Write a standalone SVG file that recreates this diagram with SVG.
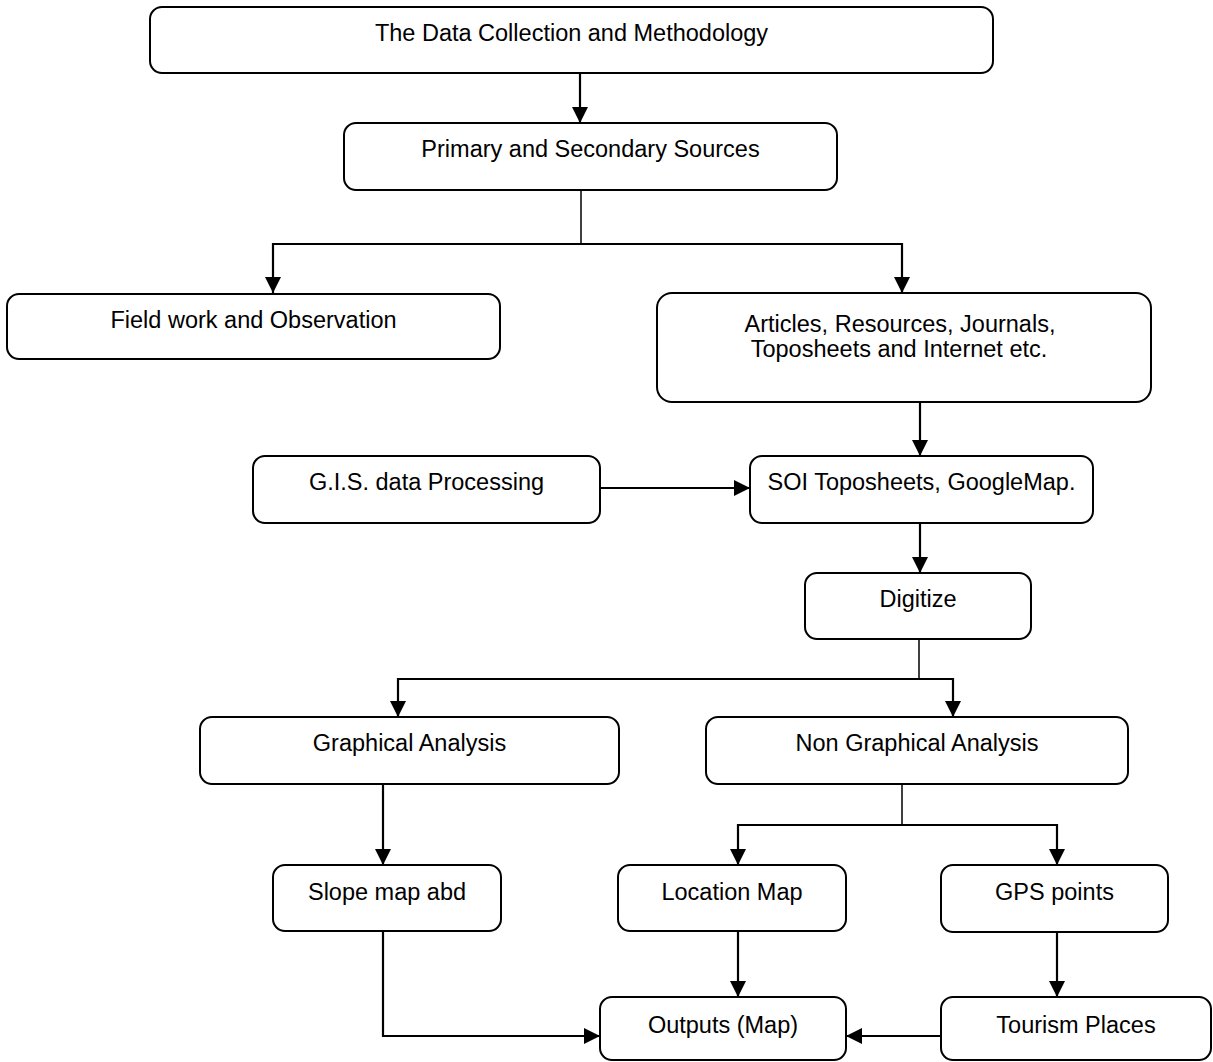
<svg xmlns="http://www.w3.org/2000/svg" width="1213" height="1062" viewBox="0 0 1213 1062">
<style>
.box{fill:#fff;stroke:#000;stroke-width:2}
.t{font-family:"Liberation Sans",Arial,sans-serif;font-size:23.5px;fill:#000;text-anchor:middle}
.c{fill:none;stroke:#000;stroke-width:2.2}
.thin{stroke-width:1.5}
</style>
<defs>
<marker id="ah" markerUnits="userSpaceOnUse" markerWidth="16" markerHeight="16" viewBox="0 0 16 16" refX="16" refY="8" orient="auto">
<path d="M0,0 L16,8 L0,16 Z" fill="#000"/>
</marker>
</defs>
<rect width="1213" height="1062" fill="#fff"/>
<g id="connectors">
<path class="c" d="M580,73 V123" marker-end="url(#ah)"/>
<path class="c thin" d="M581,190 V244"/>
<path class="c" d="M581,244 H273 V293" marker-end="url(#ah)"/>
<path class="c" d="M581,244 H902 V293" marker-end="url(#ah)"/>
<path class="c" d="M920,402 V456" marker-end="url(#ah)"/>
<path class="c" d="M600,488 H750" marker-end="url(#ah)"/>
<path class="c" d="M920,523 V573" marker-end="url(#ah)"/>
<path class="c thin" d="M919,639 V679"/>
<path class="c" d="M919,679 H398 V717" marker-end="url(#ah)"/>
<path class="c" d="M919,679 H953 V717" marker-end="url(#ah)"/>
<path class="c" d="M383,784 V865" marker-end="url(#ah)"/>
<path class="c thin" d="M902,784 V825"/>
<path class="c" d="M902,825 H738 V865" marker-end="url(#ah)"/>
<path class="c" d="M902,825 H1057 V865" marker-end="url(#ah)"/>
<path class="c" d="M738,931 V997" marker-end="url(#ah)"/>
<path class="c" d="M1057,932 V997" marker-end="url(#ah)"/>
<path class="c" d="M383,931 V1036 H600" marker-end="url(#ah)"/>
<path class="c" d="M941,1036 H846" marker-end="url(#ah)"/>
</g>
<g id="n1"><rect class="box" x="150" y="7" width="843" height="66" rx="12"/><text class="t" x="571.5" y="41">The Data Collection and Methodology</text></g>
<g id="n2"><rect class="box" x="344" y="123" width="493" height="67" rx="12"/><text class="t" x="590.5" y="157">Primary and Secondary Sources</text></g>
<g id="n3"><rect class="box" x="7" y="294" width="493" height="65" rx="12"/><text class="t" x="253.5" y="328">Field work and Observation</text></g>
<g id="n4"><rect class="box" x="657" y="293" width="494" height="109" rx="15"/><text class="t" x="900" y="332">Articles, Resources, Journals,</text><text class="t" x="899" y="357">Toposheets and Internet etc.</text></g>
<g id="n5"><rect class="box" x="253" y="456" width="347" height="67" rx="12"/><text class="t" x="426.5" y="490">G.I.S. data Processing</text></g>
<g id="n6"><rect class="box" x="750" y="456" width="343" height="67" rx="12"/><text class="t" x="921.5" y="490">SOI Toposheets, GoogleMap.</text></g>
<g id="n7"><rect class="box" x="805" y="573" width="226" height="66" rx="12"/><text class="t" x="918" y="607">Digitize</text></g>
<g id="n8"><rect class="box" x="200" y="717" width="419" height="67" rx="12"/><text class="t" x="409.5" y="751">Graphical Analysis</text></g>
<g id="n9"><rect class="box" x="706" y="717" width="422" height="67" rx="12"/><text class="t" x="917" y="751">Non Graphical Analysis</text></g>
<g id="n10"><rect class="box" x="273" y="865" width="228" height="66" rx="12"/><text class="t" x="387" y="900">Slope map abd</text></g>
<g id="n11"><rect class="box" x="618" y="865" width="228" height="66" rx="12"/><text class="t" x="732" y="900">Location Map</text></g>
<g id="n12"><rect class="box" x="941" y="865" width="227" height="67" rx="12"/><text class="t" x="1054.5" y="900">GPS points</text></g>
<g id="n13"><rect class="box" x="600" y="997" width="246" height="63" rx="12"/><text class="t" x="723" y="1033">Outputs (Map)</text></g>
<g id="n14"><rect class="box" x="941" y="997" width="270" height="63" rx="12"/><text class="t" x="1076" y="1033">Tourism Places</text></g>
</svg>
